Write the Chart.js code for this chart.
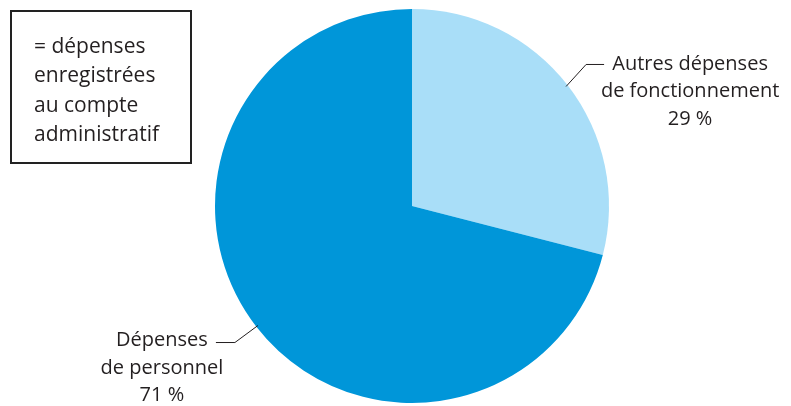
<!DOCTYPE html>
<html>
<head>
<meta charset="utf-8">
<script src="https://cdn.jsdelivr.net/npm/chart.js@4"></script>
<style>
  html, body { margin: 0; padding: 0; background: #fff; }
  #wrap { width: 791px; height: 406px; position: relative; }
</style>
</head>
<body>
<div id="wrap"><canvas id="camembert"></canvas></div>
<script>
// repartition des depenses
const categories = ['Autres dépenses de fonctionnement', 'Dépenses de personnel'];
const valeurs = [29, 71];
const couleurs = ['#a9def8', '#0096d9'];
// lignes des etiquettes
const etiquettes = [
  ['Autres dépenses', 'de fonctionnement', '29 %'],
  ['Dépenses', 'de personnel', '71 %']
];
const legendeTexte = ['= dépenses', 'enregistrées', 'au compte', 'administratif'];

const police = '"Open Sans", "Noto Sans", sans-serif';

const etiquettesPlugin = {
  id: 'etiquettes',
  afterDraw(chart) {
    const c = chart.ctx;
    const meta = chart.getDatasetMeta(0);
    c.save();

    // cadre en haut a gauche
    c.strokeStyle = '#222';
    c.lineWidth = 2;
    c.strokeRect(11, 11, 180, 152);
    c.fillStyle = '#231f20';
    c.font = '21px ' + police;
    c.textAlign = 'left';
    c.textBaseline = 'middle';
    legendeTexte.forEach((t, i) => c.fillText(t, 34, 47 + i * 29.3));

    c.strokeStyle = '#231f20';
    c.lineWidth = 1;
    c.font = '20px ' + police;
    c.textAlign = 'center';

    meta.data.forEach((arc, i) => {
      const p = arc.getProps(['x', 'y', 'startAngle', 'endAngle', 'outerRadius']);
      const a = (p.startAngle + p.endAngle) / 2;
      const ex = p.x + Math.cos(a) * (p.outerRadius - 2);
      const ey = p.y + Math.sin(a) * (p.outerRadius - 2);
      const droite = Math.cos(a) > 0;
      const coudeX = ex + (droite ? 20 : -23);
      const coudeY = ey + (droite ? -22 : 17);
      const finX = coudeX + (droite ? 18 : -19);
      c.beginPath();
      c.moveTo(ex, ey);
      c.lineTo(coudeX, coudeY);
      c.lineTo(finX, coudeY);
      c.stroke();

      const lignes = etiquettes[i];
      const cx = droite ? finX + 86 : finX - 54;
      const y0 = droite ? coudeY : coudeY - 2;
      lignes.forEach((t, j) => c.fillText(t, cx, y0 + j * 27.3));
    });
    c.restore();
  }
};

new Chart(document.getElementById('camembert'), {
  type: 'pie',
  data: {
    labels: categories,
    datasets: [{
      data: valeurs,
      backgroundColor: couleurs,
      borderWidth: 0
    }]
  },
  options: {
    responsive: true,
    maintainAspectRatio: false,
    animation: false,
    layout: { padding: { left: 215, right: 182, top: 9, bottom: 3 } },
    plugins: {
      legend: { display: false },
      tooltip: { enabled: false }
    }
  },
  plugins: [etiquettesPlugin]
});
</script>
</body>
</html>
